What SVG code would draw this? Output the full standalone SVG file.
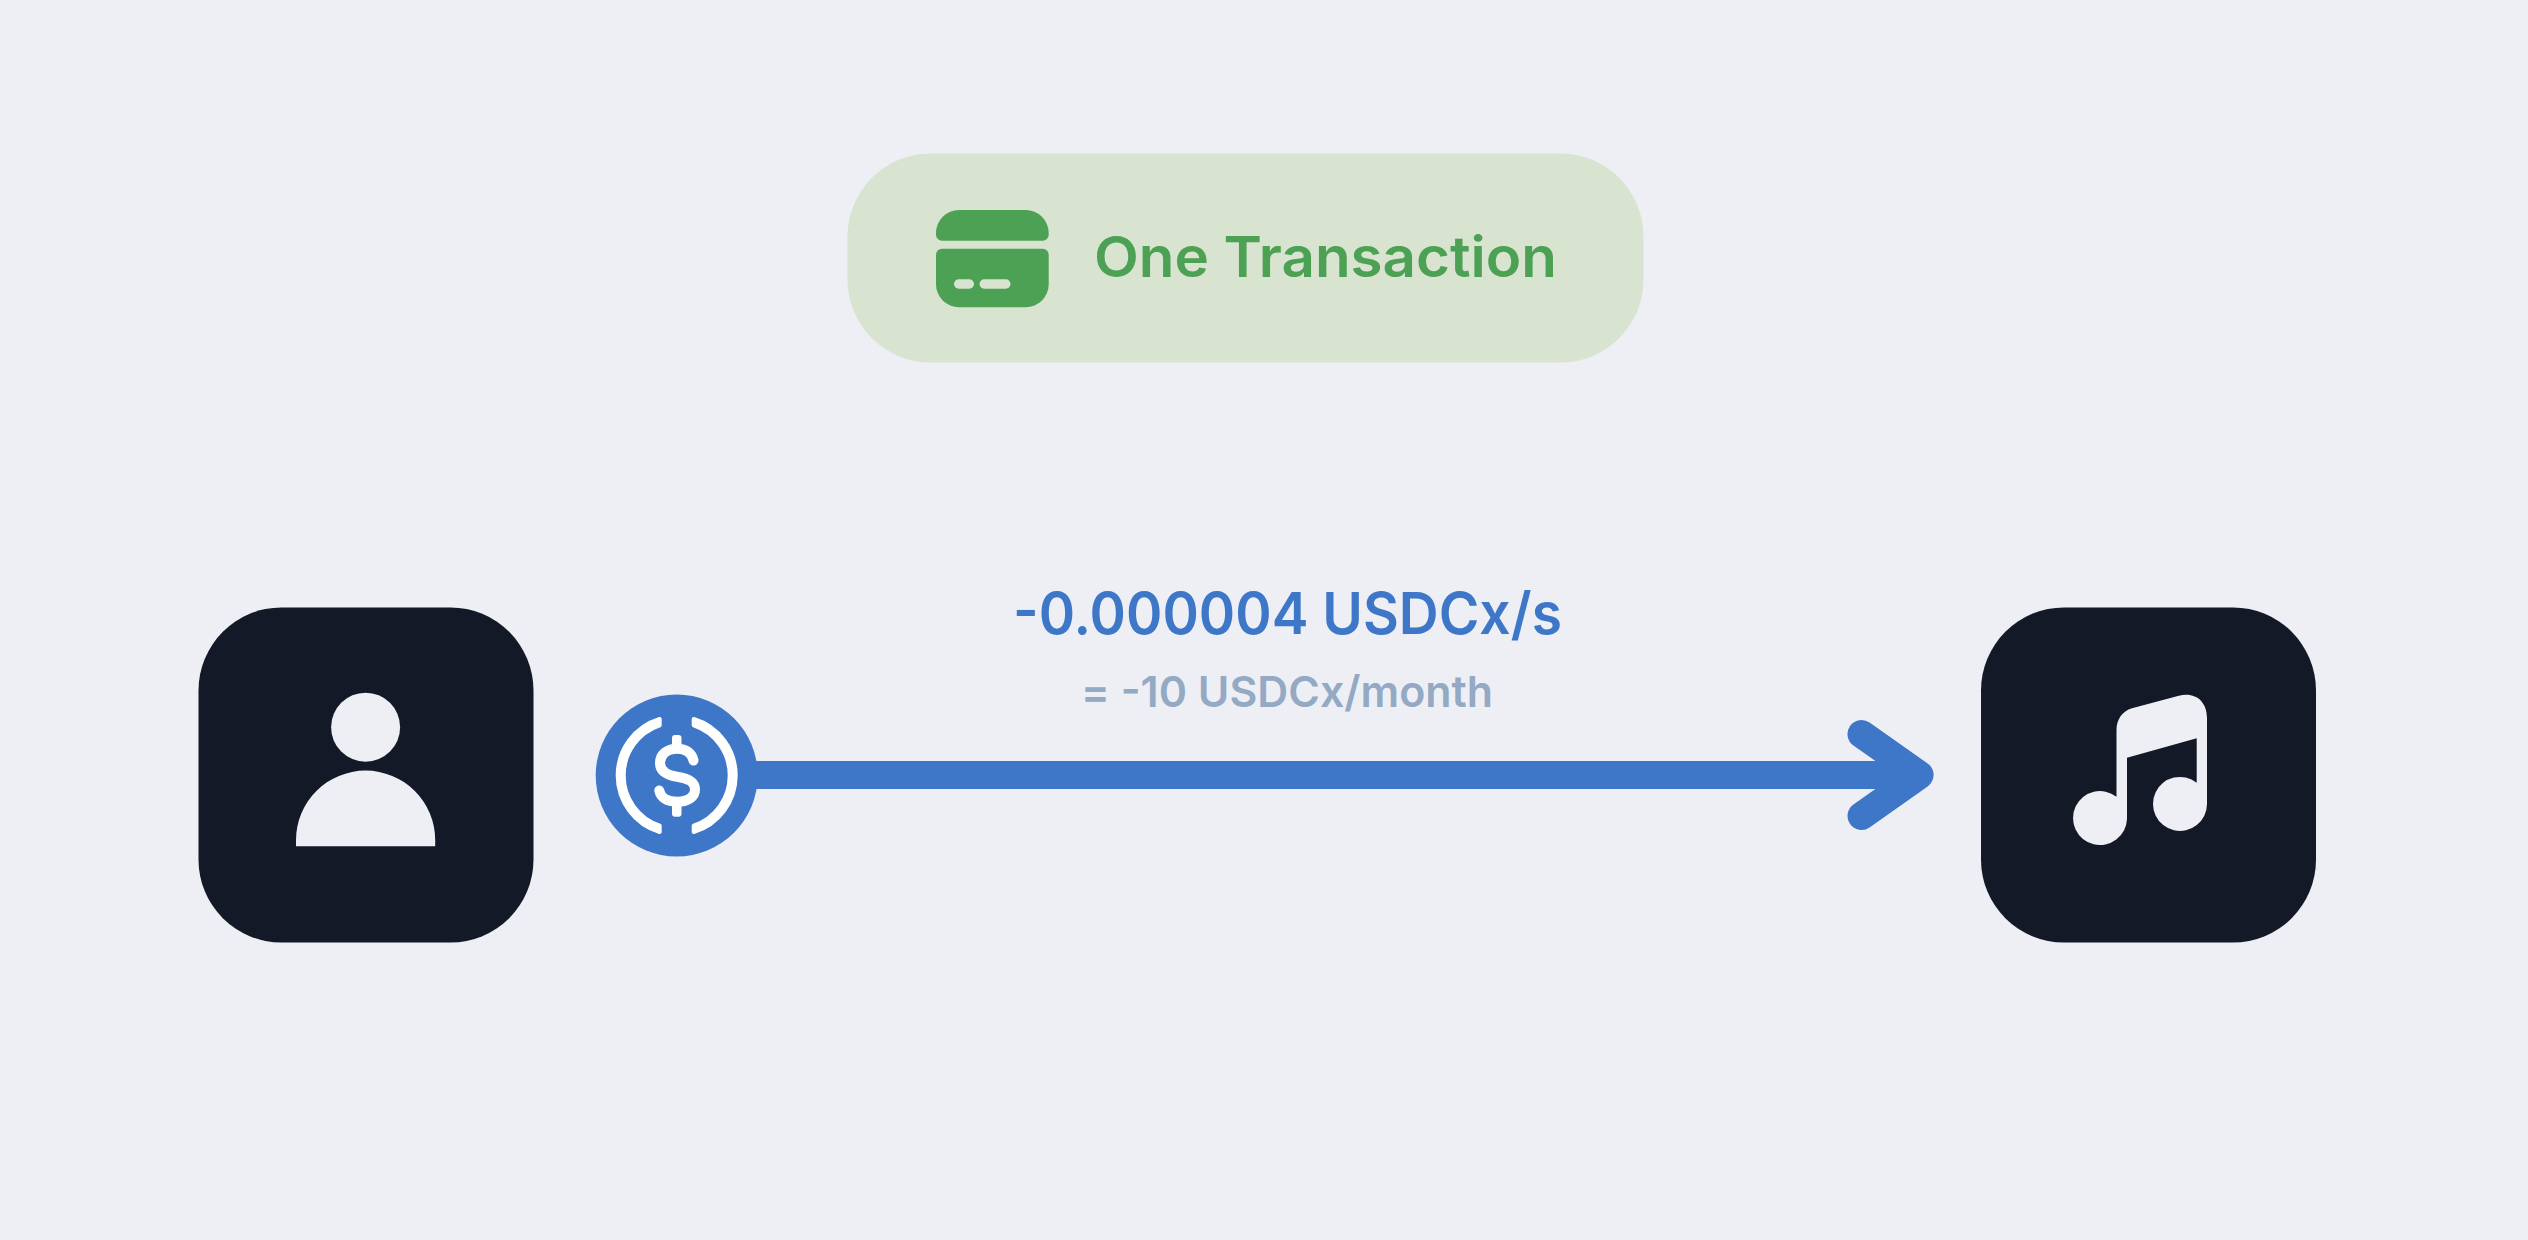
<svg xmlns="http://www.w3.org/2000/svg" width="2528" height="1240" viewBox="0 0 2528 1240">
<style>
.t{font-family:"Inter","Noto Sans",sans-serif;font-weight:600}
.box{fill:#131926}
.ic{fill:#EDEFF5}
.blue{fill:#3E77C7}
.green{fill:#4CA154}
.pale{fill:#D8E4D0}
.wh{fill:#fff;stroke:#fff;stroke-width:4;stroke-linejoin:round}
</style>
<rect width="2528" height="1240" fill="#EDEFF5"/>
<g id="connectors">
<path d="M676 775H1915" fill="none" stroke="#3E77C7" stroke-width="28"/>
<path d="M1861.5 734L1919.6 775L1861.5 816" fill="none" stroke="#3E77C7" stroke-width="28" stroke-linecap="round" stroke-linejoin="round"/>
</g>
<g id="transaction">
<rect class="pale" x="847.5" y="153.5" width="796" height="209" rx="83"/>
<path class="green" d="M936 234V233A23 23 0 0 1 959 210H1025.7A23 23 0 0 1 1048.7 233V234.7A6 6 0 0 1 1042.7 240.7H942A6 6 0 0 1 936 234.7Z"/>
<path class="green" d="M942 248.7H1042.7A6 6 0 0 1 1048.7 254.7V284.3A23 23 0 0 1 1025.7 307.3H959A23 23 0 0 1 936 284.3V254.7A6 6 0 0 1 942 248.7Z"/>
<rect class="pale" x="954" y="279.3" width="20" height="9.4" rx="4.7"/>
<rect class="pale" x="979.5" y="279.3" width="31" height="9.4" rx="4.7"/>
<text class="t" x="1094" y="277.3" font-size="56" fill="#4CA154" textLength="463" lengthAdjust="spacingAndGlyphs">One Transaction</text>
</g>
<g id="sender">
<rect class="box" x="198.5" y="607.5" width="335" height="335" rx="83"/>
<circle class="ic" cx="365.6" cy="727.2" r="34.5"/>
<path class="ic" d="M296 846.3V840.2A69.6 69.6 0 0 1 435.2 840.2V846.3Z"/>
</g>
<g id="token">
<circle class="blue" cx="676.7" cy="775.5" r="81"/>
<path class="wh" d="M659.7 719A59 59 0 0 0 659.7 832V825.7A53 53 0 0 1 659.7 725.3Z"/>
<path class="wh" d="M693.7 719A59 59 0 0 1 693.7 832V825.7A53 53 0 0 0 693.7 725.3Z"/>
<path d="M693.5 760.5C692 753 686 748.7 677 748.7C667 748.7 660 754.5 660 763C660 771 666 775 677 776.7C689 778.5 695 782 695 789.5C695 797 688 801.7 677.5 801.7C667 801.7 660.5 797.5 659.3 790.5" fill="none" stroke="#fff" stroke-width="10" stroke-linecap="round"/>
<rect x="672" y="735" width="9.5" height="16" rx="3" fill="#fff"/>
<rect x="672" y="800" width="9.5" height="16.7" rx="3" fill="#fff"/>
</g>
<g id="receiver">
<rect class="box" x="1981" y="607.5" width="335" height="335" rx="83"/>
<path class="ic" d="M2116.5 730C2116.5 720 2122 711 2132 708.3L2178.8 695.7C2195 691.5 2207 701 2207 718V804A27 27 0 1 1 2196.7 782.7V738.3L2127 757.7V819A27 27 0 1 1 2116.5 796.7Z"/>
</g>
<g id="labels">
<text class="t" x="1013" y="634" font-size="58" fill="#3E77C7" textLength="549" lengthAdjust="spacingAndGlyphs">-0.000004 USDCx/s</text>
<text class="t" x="1081" y="707.3" font-size="43" fill="#94A9C4" textLength="412" lengthAdjust="spacingAndGlyphs">= -10 USDCx/month</text>
</g>
</svg>
